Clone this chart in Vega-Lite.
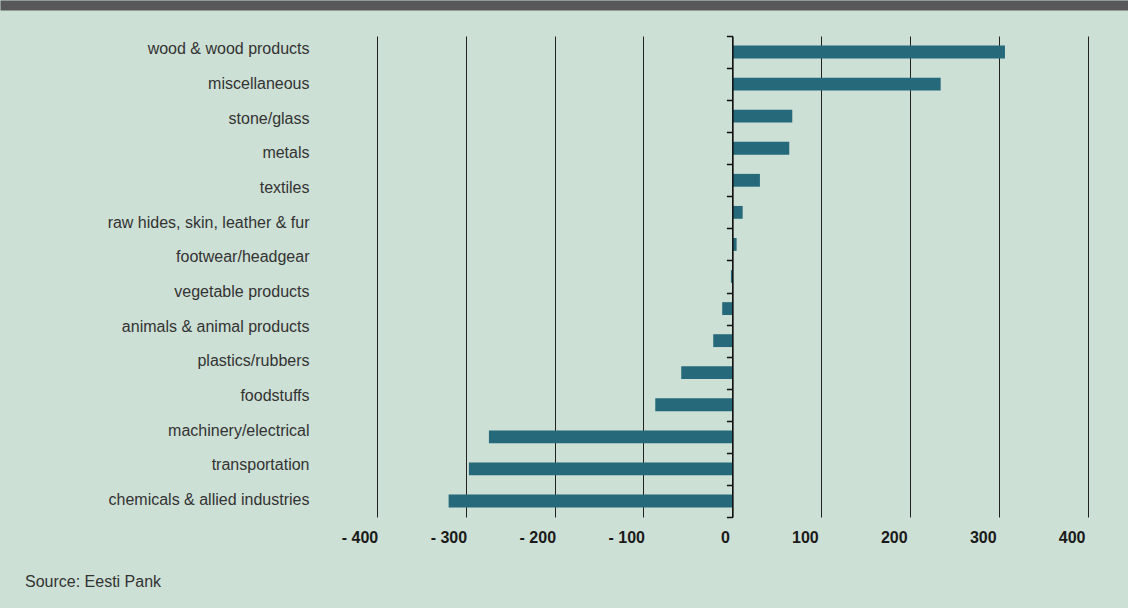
{
  "$schema": "https://vega.github.io/schema/vega-lite/v6.json",
  "width": 1128,
  "height": 481,
  "autosize": "none",
  "padding": {"left": 0, "top": 36, "right": 0, "bottom": 91},
  "background": "#cde0d5",
  "config": {"view": {"stroke": null}, "font": "Liberation Sans"},
  "datasets": {
    "bars": [
      {"pos": 1, "value": 306.6},
      {"pos": 2, "value": 234.3},
      {"pos": 3, "value": 67.4},
      {"pos": 4, "value": 64.0},
      {"pos": 5, "value": 31.0},
      {"pos": 6, "value": 11.6},
      {"pos": 7, "value": 4.8},
      {"pos": 8, "value": -1.6},
      {"pos": 9, "value": -11.4},
      {"pos": 10, "value": -21.5},
      {"pos": 11, "value": -57.5},
      {"pos": 12, "value": -86.7},
      {"pos": 13, "value": -273.8},
      {"pos": 14, "value": -296.3},
      {"pos": 15, "value": -319.1}
    ],
    "labels": [
      {"category": "wood & wood products"},
      {"category": "miscellaneous"},
      {"category": "stone/glass"},
      {"category": "metals"},
      {"category": "textiles"},
      {"category": "raw hides, skin, leather & fur"},
      {"category": "footwear/headgear"},
      {"category": "vegetable products"},
      {"category": "animals & animal products"},
      {"category": "plastics/rubbers"},
      {"category": "foodstuffs"},
      {"category": "machinery/electrical"},
      {"category": "transportation"},
      {"category": "chemicals & allied industries"}
    ]
  },
  "title": {
    "text": "Source: Eesti Pank",
    "orient": "bottom",
    "anchor": "start",
    "frame": "group",
    "dx": 25,
    "offset": 29,
    "font": "Liberation Sans",
    "fontSize": 16,
    "fontWeight": "normal",
    "color": "#333333"
  },
  "layer": [
    {
      "data": {"name": "bars"},
      "mark": {"type": "bar", "color": "#26697b", "height": {"band": 0.4}},
      "encoding": {
        "y": {
          "field": "pos",
          "type": "ordinal",
          "scale": {"paddingInner": 0, "paddingOuter": 0},
          "axis": {
            "orient": "left",
            "offset": -732.4,
            "labels": false,
            "title": null,
            "tickBand": "extent",
            "ticks": true,
            "tickSize": 6,
            "tickColor": "#111111",
            "tickWidth": 1.5,
            "domain": true,
            "domainColor": "#111111",
            "domainWidth": 1.5,
            "grid": false,
            "zindex": 1
          }
        },
        "x": {
          "field": "value",
          "type": "quantitative",
          "scale": {"domain": [-400, 400], "range": [376.7, 1088]},
          "axis": {
            "orient": "bottom",
            "values": [-400, -300, -200, -100, 0, 100, 200, 300, 400],
            "grid": true,
            "gridColor": "#222222",
            "gridWidth": 1,
            "domain": false,
            "ticks": false,
            "tickSize": 0,
            "labelPadding": 12,
            "labelFont": "Liberation Sans",
            "labelFontWeight": "bold",
            "labelFontSize": 16,
            "labelColor": "#1a1a1a",
            "labelAlign": "right",
            "labelOffset": {"condition": {"test": "datum.value < 0", "value": 1}, "value": -3},
            "labelExpr": "datum.value < 0 ? '- ' + abs(datum.value) : '' + datum.value",
            "labelFlush": false,
            "labelOverlap": false,
            "title": null
          }
        }
      }
    },
    {
      "data": {"name": "labels"},
      "mark": {"type": "text", "text": ""},
      "encoding": {
        "y": {
          "field": "category",
          "type": "nominal",
          "sort": null,
          "scale": {"type": "point", "range": [12.7, 463.5], "padding": 0},
          "axis": {
            "orient": "left",
            "offset": -309,
            "domain": false,
            "ticks": false,
            "tickSize": 0,
            "labelPadding": 0,
            "labelFont": "Liberation Sans",
            "labelFontSize": 16,
            "labelColor": "#333333",
            "labelLimit": 400,
            "labelOverlap": false,
            "grid": false,
            "title": null
          }
        },
        "x": {
          "datum": 0,
          "type": "quantitative",
          "scale": {"domain": [0, 1]},
          "axis": {
            "orient": "top",
            "offset": 31,
            "domain": true,
            "domainWidth": 10,
            "domainColor": "#58585a",
            "domainCap": "butt",
            "ticks": false,
            "labels": false,
            "grid": false,
            "title": null
          }
        }
      }
    }
  ],
  "resolve": {
    "scale": {"x": "independent", "y": "independent"},
    "axis": {"x": "independent", "y": "independent"}
  }
}
